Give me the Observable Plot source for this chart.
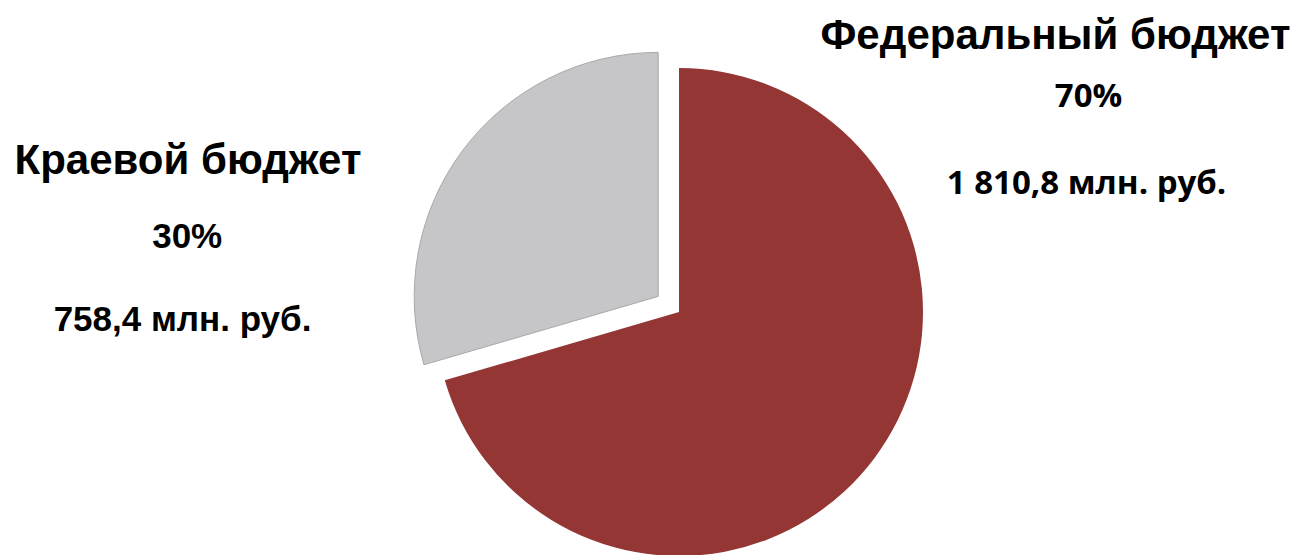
<!DOCTYPE html>
<html>
<head>
<meta charset="utf-8">
<script src="https://cdn.jsdelivr.net/npm/d3@7"></script>
<script src="https://cdn.jsdelivr.net/npm/@observablehq/plot@0.6"></script>
<style>
  html, body { margin: 0; padding: 0; background: #fff; }
  #chart svg { display: block; }
</style>
</head>
<body>
<div id="chart"></div>
<script>
// ---- data ----
const categories = ["Федеральный бюджет", "Краевой бюджет"];
const amounts = [1810.8, 758.4];               // млн. руб.
const shareLabels = ["70%", "30%"];
const amountLabels = ["1 810,8 млн. руб.", "758,4 млн. руб."];
const exploded = [false, true];

// ---- layout / style ----
const W = 1301, H = 555;
const pie = { cx: 679, cy: 312, r: 244, explode: 26 };
const colors = ["#943634", "#c6c6c8"];
const strokes = ["#943634", "#a9a9ab"];
const titleFont = "'Liberation Sans', Arial, sans-serif";
const fedFont = "'Open Sans', sans-serif";
// [x, y(middle), fontSize, family]
const labelLayout = [
  { title: [1055, 35, 42, titleFont], share: [1088, 96, 33, fedFont], amount: [1086, 183, 33, fedFont] },
  { title: [187.5, 160, 42, titleFont], share: [186.7, 236, 35, titleFont], amount: [182, 319, 35, titleFont] }
];

const table = categories.map((c, i) => ({
  category: c, amount: amounts[i], share: shareLabels[i], amountLabel: amountLabels[i], exploded: exploded[i], i
}));
const arcs = d3.pie().sort(null).value(d => d.amount)(table);

const pieMark = (index, scales) => {
  const g = d3.create("svg:g");
  const arc = d3.arc().innerRadius(0).outerRadius(pie.r);
  for (const a of arcs) {
    const mid = (a.startAngle + a.endAngle) / 2;
    const off = a.data.exploded ? pie.explode : 0;
    const x = scales.x(pie.cx) + off * Math.sin(mid);
    const y = scales.y(pie.cy) - off * Math.cos(mid);
    g.append("path")
      .attr("d", arc(a))
      .attr("transform", `translate(${x},${y})`)
      .attr("fill", colors[a.data.i])
      .attr("stroke", strokes[a.data.i])
      .attr("stroke-width", a.data.i === 1 ? 1 : 0);
  }
  return g.node();
};

const textRows = [];
table.forEach((d, i) => {
  const L = labelLayout[i];
  for (const [key, text] of [["title", d.category], ["share", d.share], ["amount", d.amountLabel]]) {
    const [x, y, size, font] = L[key];
    textRows.push({ text, x, y, size, font });
  }
});

const fonts = [titleFont, fedFont];
const textMarks = fonts.map(f =>
  Plot.text(textRows.filter(r => r.font === f), {
    x: "x", y: "y", text: "text", fontSize: "size",
    fontFamily: f, fontWeight: "bold", fill: "#000",
    textAnchor: "middle", lineAnchor: "middle"
  })
);

const chart = Plot.plot({
  width: W, height: H,
  margin: 0,
  x: { domain: [0, W], range: [0, W], axis: null },
  y: { domain: [0, H], range: [0, H], axis: null },
  style: { background: "#fff" },
  marks: [pieMark, ...textMarks]
});
document.getElementById("chart").append(chart);
</script>
</body>
</html>
